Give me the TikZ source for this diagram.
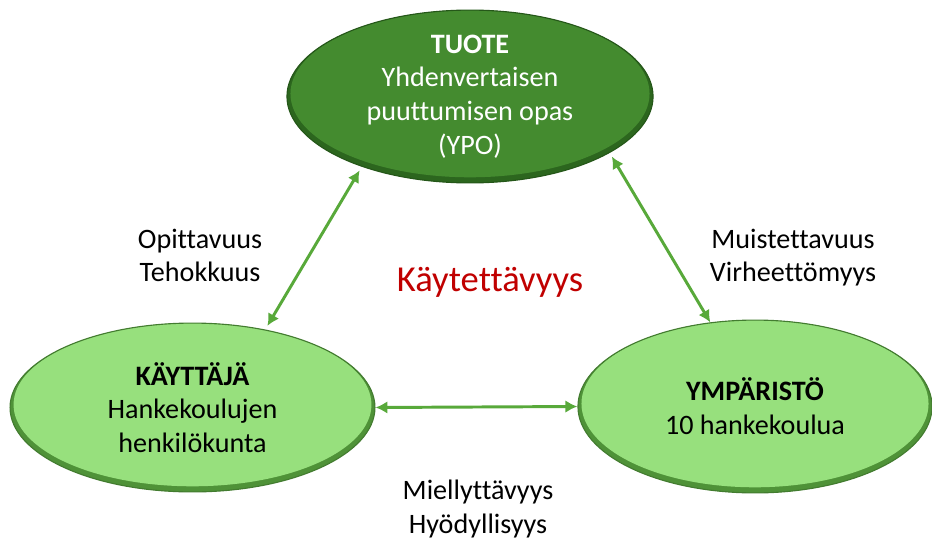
\documentclass[tikz,border=0pt]{standalone}
\usepackage{fontspec}
\setmainfont{Carlito}[Ligatures={NoCommon,NoRequired,NoContextual}, Contextuals=NoAlternate]
\usetikzlibrary{shapes.geometric,arrows.meta,calc}

\definecolor{tummavihrea}{HTML}{448B2F}
\definecolor{tummareuna}{HTML}{2C661E}
\definecolor{vaaleavihrea}{HTML}{97E07D}
\definecolor{vaaleareuna}{HTML}{4F9238}
\definecolor{nuolivihrea}{HTML}{58A93A}
\definecolor{punainen}{HTML}{C00000}

\tikzset{
  soikio/.style 2 args={ellipse, draw=#2!85!black, line width=0.8pt, fill=#2,
    inner xsep=0pt, inner ysep=-10pt, align=center,
    font=\fontsize{20}{24}\selectfont,
    path picture={\fill[#1] let \p1=($(path picture bounding box.north east)-(path picture bounding box.center)$)
      in ([yshift=2pt]path picture bounding box.center) ellipse [x radius=\x1-2.5pt, y radius=\y1-2pt];}},
  nuoli/.style={<->, nuolivihrea, line width=2.1pt},
  teksti/.style={align=center, font=\fontsize{20}{23.5}\selectfont},
}

\begin{document}
\begin{tikzpicture}[x=0.025cm, y=-0.025cm, >={Latex[length=8.5pt,width=9pt]}]
  \useasboundingbox (0,0) rectangle (932,538);
  % soikiot
  \node[soikio={tummavihrea}{tummareuna}, text=white, minimum width=9.15cm, minimum height=4.32cm]
    (tuote) at (470,96.5) {\textbf{TUOTE}\\Yhdenvertaisen\\puuttumisen opas\\(YPO)};
  \node[soikio={vaaleavihrea}{vaaleareuna}, minimum width=9.12cm, minimum height=4.22cm]
    (kayttaja) at (192.5,407.5) {\textbf{KÄYTTÄJÄ}\\Hankekoulujen\\henkilökunta};
  \node[soikio={vaaleavihrea}{vaaleareuna}, minimum width=8.85cm, minimum height=4.32cm]
    (ymparisto) at (755,406.5) {\textbf{YMPÄRISTÖ}\\10 hankekoulua};
  % nuolet
  \draw[nuoli, shorten <=3pt, shorten >=3pt] (tuote.213) -- (kayttaja.47);
  \draw[nuoli, shorten <=3pt] (tuote.338) -- (ymparisto.118);
  \draw[nuoli] (kayttaja.east) -- (ymparisto.west);
  % tekstit
  \node[teksti] (opittavuus) at (200,255) {Opittavuus\\Tehokkuus};
  \node[teksti] (muistettavuus) at (793,258) {Muistettavuus\\Virheettömyys};
  \node[teksti] (miellyttavyys) at (478,509) {Miellyttävyys\\Hyödyllisyys};
  \node[font=\fontsize{26}{30}\selectfont, text=punainen] (kaytettavyys) at (490,282) {Käytettävyys};
\end{tikzpicture}
\end{document}
